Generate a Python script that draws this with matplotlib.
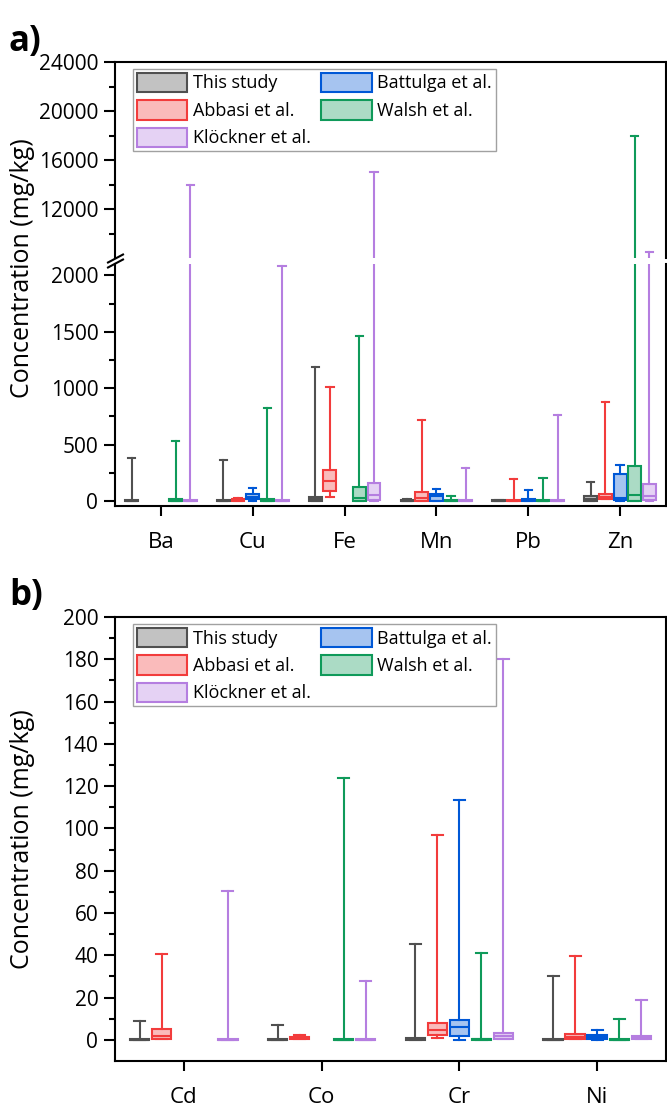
import matplotlib.pyplot as plt
from matplotlib.colors import to_rgba
from matplotlib.patches import Patch
from matplotlib.lines import Line2D

plt.rcParams['font.family'] = ['Open Sans', 'DejaVu Sans']

# ---------------------
# DATA (min, q1, median, q3, max) in mg/kg, None = no data
# ---------------------
studies = ["This study", "Abbasi et al.", "Battulga et al.", "Walsh et al.", "Klöckner et al."]
colors = ["#505050", "#f23c3c", "#0058d6", "#0f9a5a", "#b57ee0"]

elements_a = ["Ba", "Cu", "Fe", "Mn", "Pb", "Zn"]
this_study_a = [(0, 0, 0, 12, 383), (0, 0, 0, 12, 362), (0, 5, 15, 40, 1184),
                (0, 0, 2, 10, 15), (0, 0, 1, 8, 6), (0, 5, 20, 45, 170)]
abbasi_a = [None, (0, 2, 8, 20, 28), (36, 92, 178, 279, 1009),
            (0, 5, 30, 80, 715), (0, 0, 2, 12, 193), (20, 22, 40, 60, 881)]
battulga_a = [None, (0, 15, 40, 66, 116), None,
              (0, 5, 45, 66, 104), (0, 2, 8, 15, 95), (5, 12, 30, 237, 318)]
walsh_a = [(0, 0, 2, 15, 531), (0, 0, 2, 15, 825), (0, 5, 30, 125, 1460),
           (0, 0, 2, 10, 45), (0, 0, 2, 12, 202), (0, 5, 50, 309, 18000)]
klockner_a = [(0, 0, 2, 12, 14000), (0, 0, 2, 12, 2080), (0, 12, 53, 160, 15000),
              (0, 0, 2, 12, 294), (0, 0, 2, 12, 760), (5, 12, 45, 148, 8500)]

elements_b = ["Cd", "Co", "Cr", "Ni"]
this_study_b = [(0, 0, 0, 0.3, 9.1), (0, 0, 0, 0.3, 7.1), (0, 0, 0.5, 1.0, 45.2), (0, 0, 0, 0.3, 30.3)]
abbasi_b = [(0.2, 0.3, 1.9, 5.0, 40.5), (0.3, 0.4, 0.8, 1.2, 2.4), (1.1, 2.4, 4.7, 7.9, 96.7), (0.3, 0.4, 1.5, 3.0, 39.7)]
battulga_b = [None, None, (0, 1.9, 6.0, 9.5, 113.5), (0, 0.3, 1.3, 2.4, 4.7)]
walsh_b = [None, (0, 0, 0, 0.3, 124), (0, 0, 0.2, 0.6, 41.0), (0, 0, 0, 0.3, 9.9)]
klockner_b = [(0, 0, 0, 0.3, 70.5), (0, 0, 0, 0.3, 28.0), (0.3, 0.3, 1.7, 3.2, 180), (0.3, 0.3, 1.0, 1.9, 18.9)]

# ---------------------
# LAYOUT (pixels)
# ---------------------
W, H = 667, 1110
fig = plt.figure(figsize=(W / 100, H / 100), dpi=100)


def rect(left, top, right, bottom):
    return [left / W, 1 - bottom / H, (right - left) / W, (bottom - top) / H]


ax_up = fig.add_axes(rect(115, 62.3, 666, 258))
ax_lo = fig.add_axes(rect(115, 264, 666, 505.6))
ax_b = fig.add_axes(rect(115, 617, 666, 1061))

LW = 1.5
STEP = 0.16


def draw_boxes(ax, groups):
    for k, (data, color) in enumerate(zip(groups, colors)):
        stats = []
        pos = []
        for i, v in enumerate(data):
            if v is None:
                continue
            lo, q1, med, q3, hi = v
            stats.append(dict(whislo=lo, q1=q1, med=med, q3=q3, whishi=hi, fliers=[]))
            pos.append(i + 1 + (k - 2) * STEP)
        ax.bxp(
            stats, positions=pos, widths=0.14, capwidths=0.08,
            patch_artist=True, showfliers=False, manage_ticks=False,
            boxprops=dict(facecolor=to_rgba(color, 0.35), edgecolor=color, linewidth=LW),
            medianprops=dict(color=color, linewidth=LW),
            whiskerprops=dict(color=color, linewidth=LW),
            capprops=dict(color=color, linewidth=LW),
        )


groups_a = [this_study_a, abbasi_a, battulga_a, walsh_a, klockner_a]
groups_b = [this_study_b, abbasi_b, battulga_b, walsh_b, klockner_b]

draw_boxes(ax_up, groups_a)
draw_boxes(ax_lo, groups_a)
draw_boxes(ax_b, groups_b)

for ax in (ax_up, ax_lo, ax_b):
    for s in ax.spines.values():
        s.set_linewidth(LW)
    ax.tick_params(axis="y", which="major", direction="out", length=8, width=LW,
                   labelsize=15, pad=4)
    ax.tick_params(axis="y", which="minor", direction="out", length=4.5, width=LW)

# panel a, upper part
ax_up.set_xlim(0.5, 6.5)
ax_up.set_ylim(8000, 24000)
ax_up.set_yticks([12000, 16000, 20000, 24000])
ax_up.set_yticks([10000, 14000, 18000, 22000], minor=True)
ax_up.spines["bottom"].set_visible(False)
ax_up.set_xticks([])

# panel a, lower part
ax_lo.set_xlim(0.5, 6.5)
ax_lo.set_ylim(-40, 2100)
ax_lo.set_yticks([0, 500, 1000, 1500, 2000])
ax_lo.set_yticks([250, 750, 1250, 1750], minor=True)
ax_lo.spines["top"].set_visible(False)
ax_lo.set_xticks(range(1, len(elements_a) + 1))
ax_lo.set_xticklabels(elements_a)
ax_lo.tick_params(axis="x", direction="out", length=7, width=LW, labelsize=16, pad=12)

# panel b
ax_b.set_xlim(0.5, 4.5)
ax_b.set_ylim(-10, 200)
ax_b.set_yticks(range(0, 201, 20))
ax_b.set_yticks(range(10, 200, 20), minor=True)
ax_b.set_xticks(range(1, len(elements_b) + 1))
ax_b.set_xticklabels(elements_b)
ax_b.tick_params(axis="x", direction="out", length=7, width=LW, labelsize=16, pad=12)

# break marks on the left axis
for dy in (-2.5, 2.5):
    y0 = 261 + dy
    fig.add_artist(Line2D([108 / W, 123 / W], [1 - (y0 + 4) / H, 1 - (y0 - 4) / H],
                          color="black", lw=LW, transform=fig.transFigure))

# y labels
fig.text(23 / W, 1 - 268 / H, "Concentration (mg/kg)", rotation=90,
         ha="center", va="center", fontsize=18)
fig.text(23 / W, 1 - 839 / H, "Concentration (mg/kg)", rotation=90,
         ha="center", va="center", fontsize=18)

# panel letters
fig.text(9 / W, 1 - 42 / H, "a)", fontsize=25, fontweight="bold", va="center")
fig.text(9 / W, 1 - 596 / H, "b)", fontsize=25, fontweight="bold", va="center")

# legends
handles = [Patch(facecolor=to_rgba(c, 0.35), edgecolor=c, linewidth=LW, label=s)
           for s, c in zip(studies, colors)]
order = [0, 1, 4, 2, 3]
for top in (69, 624):
    leg = fig.legend(
        [handles[i] for i in order], [studies[i] for i in order],
        loc="upper left", bbox_to_anchor=(133 / W, 1 - top / H), ncol=2,
        fontsize=13, frameon=True, fancybox=False, edgecolor="#8a8a8a",
        borderpad=0.2, borderaxespad=0, handlelength=2.8, handleheight=1.3,
        handletextpad=0.3, labelspacing=0.42, columnspacing=0.6,
    )
    leg.get_frame().set_linewidth(1.0)

fig.savefig("out.png", dpi=100)
